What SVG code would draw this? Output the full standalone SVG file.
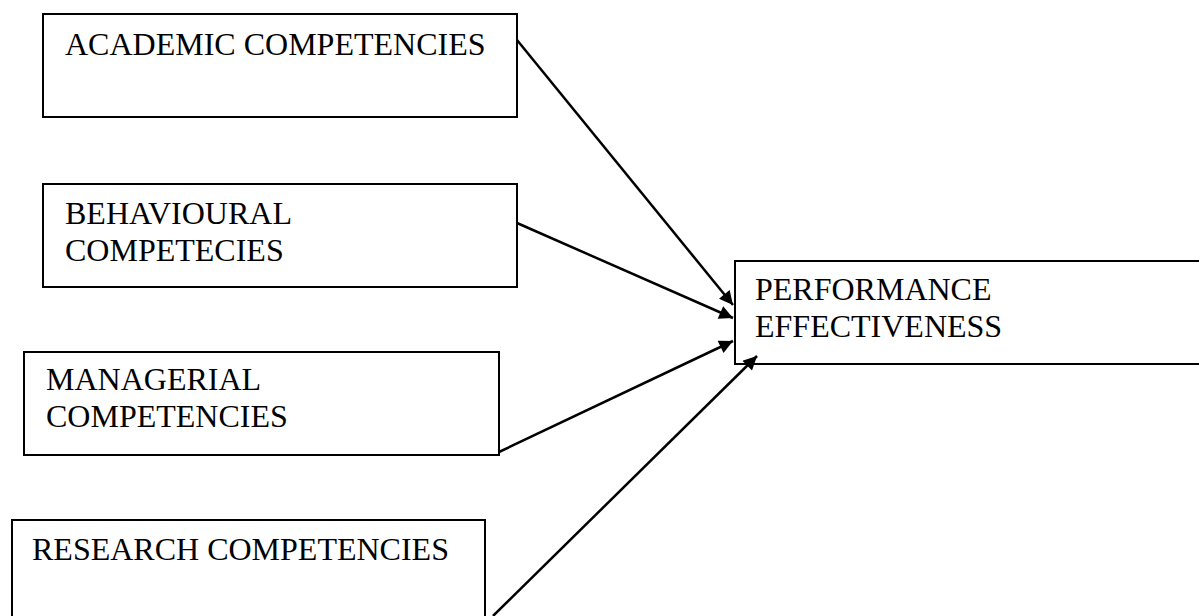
<svg xmlns="http://www.w3.org/2000/svg" width="1199" height="616" viewBox="0 0 1199 616">
<style>
.box{fill:#fff;stroke:#000;stroke-width:2}
.lbl{font-family:"Liberation Serif","Times New Roman",serif;font-size:32px;fill:#000}
.conn{stroke:#000;stroke-width:2.5;fill:none;marker-end:url(#ah)}
</style>
<defs>
<marker id="ah" viewBox="0 0 10 10" refX="10" refY="5" markerWidth="7" markerHeight="5.5" markerUnits="strokeWidth" orient="auto">
<path d="M0,0 L10,5 L0,10 z" fill="#000"/>
</marker>
</defs>
<rect width="1199" height="616" fill="#fff"/>
<g id="academic"><rect class="box" x="43" y="14" width="474" height="103"/><text class="lbl" x="65" y="55">ACADEMIC COMPETENCIES</text></g>
<g id="behavioural"><rect class="box" x="43" y="184" width="474" height="103"/><text class="lbl" x="65" y="224">BEHAVIOURAL</text><text class="lbl" x="65" y="261">COMPETECIES</text></g>
<g id="managerial"><rect class="box" x="24" y="352" width="475" height="103"/><text class="lbl" x="46" y="390">MANAGERIAL</text><text class="lbl" x="46" y="427">COMPETENCIES</text></g>
<g id="research"><rect class="box" x="12" y="520" width="473" height="110"/><text class="lbl" x="32" y="560">RESEARCH COMPETENCIES</text></g>
<g id="performance"><rect class="box" x="735" y="261" width="480" height="103"/><text class="lbl" x="755" y="300">PERFORMANCE</text><text class="lbl" x="755" y="337">EFFECTIVENESS</text></g>
<g id="connectors">
<line class="conn" x1="517" y1="40" x2="733" y2="305"/>
<line class="conn" x1="517" y1="223" x2="733" y2="318"/>
<line class="conn" x1="499" y1="452" x2="733" y2="341"/>
<line class="conn" x1="493" y1="616" x2="757" y2="356"/>
</g>
</svg>
